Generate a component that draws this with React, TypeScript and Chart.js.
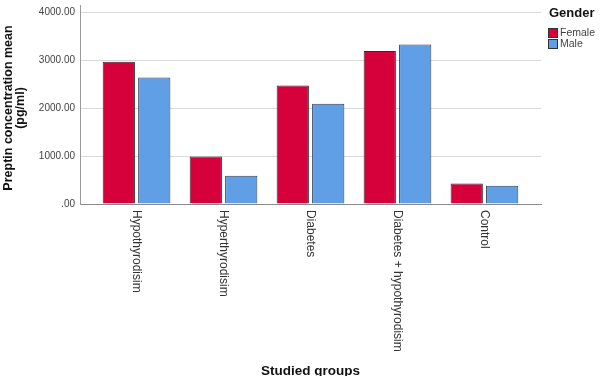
import { useEffect, useRef } from 'react';
import { Chart, registerables } from 'chart.js';

Chart.register(...registerables);

const FONT = '"Liberation Sans", Arial, sans-serif';

const categories = ['Hypothyrodisim', 'Hyperthyrodisim', 'Diabetes', 'Diabetes + hypothyrodisim', 'Control'];
const femaleMeans = [2962, 989, 2471, 3190, 428];
const maleMeans = [2638, 588, 2089, 3323, 380];
const yTicks = [0, 1000, 2000, 3000, 4000];

// Category labels read top-to-bottom under each group
const verticalLabels = {
  id: 'verticalLabels',
  afterDraw(chart: any) {
    const xs = chart.scales.x;
    const ctx = chart.ctx;
    categories.forEach((label, i) => {
      const px = xs.getPixelForValue(i);
      ctx.save();
      ctx.translate(px, xs.top + 6);
      ctx.rotate(Math.PI / 2);
      ctx.font = `12px ${FONT}`;
      ctx.fillStyle = '#333';
      ctx.textAlign = 'left';
      ctx.textBaseline = 'middle';
      ctx.fillText(label, 0, 0);
      ctx.restore();
    });
  },
};

// Short stub of the value axis above its last gridline
const axisStub = {
  id: 'axisStub',
  afterDraw(chart: any) {
    const { ctx, chartArea } = chart;
    const x = Math.round(chartArea.left) + 0.5;
    ctx.save();
    ctx.strokeStyle = '#9a9a9a';
    ctx.lineWidth = 1;
    ctx.beginPath();
    ctx.moveTo(x, chartArea.top - 7);
    ctx.lineTo(x, chartArea.top);
    ctx.stroke();
    ctx.restore();
  },
};

// Legend block with a bold heading, right of the plot
const genderLegend = {
  id: 'genderLegend',
  afterDraw(chart: any) {
    const ctx = chart.ctx;
    const left = chart.chartArea.right + 7;
    ctx.save();
    ctx.font = `bold 13px ${FONT}`;
    ctx.fillStyle = '#111';
    ctx.textAlign = 'left';
    ctx.textBaseline = 'middle';
    ctx.fillText('Gender', left + 1, 13);
    chart.data.datasets.forEach((ds: any, i: number) => {
      const top = 28 + i * 11;
      ctx.fillStyle = ds.backgroundColor;
      ctx.fillRect(left, top, 10, 10);
      ctx.strokeStyle = '#333';
      ctx.lineWidth = 1;
      ctx.strokeRect(left + 0.5, top + 0.5, 9, 9);
      ctx.font = `10.5px ${FONT}`;
      ctx.fillStyle = '#444';
      ctx.fillText(ds.label, left + 12, top + 5.5);
    });
    ctx.restore();
  },
};

export default function App() {
  const canvasRef = useRef<HTMLCanvasElement | null>(null);

  useEffect(() => {
    document.body.style.margin = '0';
    const canvas = canvasRef.current;
    if (!canvas) return;
    const chart = new Chart(canvas, {
      type: 'bar',
      data: {
        datasets: [
          {
            label: 'Female',
            data: femaleMeans.map((v, i) => ({ x: i, y: v })),
            backgroundColor: '#d6003b',
            borderColor: '#3a2a30',
            borderWidth: 1,
          },
          {
            label: 'Male',
            data: maleMeans.map((v, i) => ({ x: i, y: v })),
            backgroundColor: '#609fe6',
            borderColor: '#2f3f55',
            borderWidth: 1,
          },
        ],
      },
      options: {
        responsive: false,
        animation: false,
        layout: { padding: { top: 12, right: 59, bottom: 0, left: 0 } },
        datasets: { bar: { barPercentage: 0.91, categoryPercentage: 0.815 } },
        plugins: {
          legend: { display: false },
          tooltip: { enabled: false },
        },
        scales: {
          x: {
            type: 'linear',
            offset: false,
            min: -0.65,
            max: 4.65,
            afterBuildTicks: (axis: any) => {
              axis.ticks = categories.map((_, i) => ({ value: i }));
            },
            afterFit: (axis: any) => {
              axis.height = 172;
            },
            ticks: { color: 'rgba(0,0,0,0)', autoSkip: false, maxRotation: 0 },
            grid: { offset: false, display: false, drawTicks: false },
            border: { display: true, color: '#8a8a8a' },
            title: {
              display: true,
              text: 'Studied groups',
              color: '#111',
              font: { family: FONT, size: 13.5, weight: 'bold' },
              padding: { top: 0, bottom: -3 },
            },
          },
          y: {
            min: 0,
            max: 4000,
            afterBuildTicks: (axis: any) => {
              axis.ticks = yTicks.map((v) => ({ value: v }));
            },
            afterFit: (axis: any) => {
              axis.width = 80;
            },
            ticks: {
              color: '#444',
              font: { family: FONT, size: 10 },
              padding: 5,
              callback: (v: any) => (Number(v) === 0 ? '.00' : Number(v).toFixed(2)),
            },
            grid: { color: '#d9d9d9', drawTicks: false },
            border: { color: '#9a9a9a' },
            title: {
              display: true,
              text: ['Preptin concentration mean', '(pg/ml)'],
              color: '#111',
              font: { family: FONT, size: 12.5, weight: 'bold', lineHeight: 1.0 },
              padding: { top: 2, bottom: 0 },
            },
          },
        },
      },
      plugins: [verticalLabels, axisStub, genderLegend],
    } as any);
    return () => chart.destroy();
  }, []);

  return <canvas ref={canvasRef} width={600} height={376} style={{ display: 'block' }} />;
}
